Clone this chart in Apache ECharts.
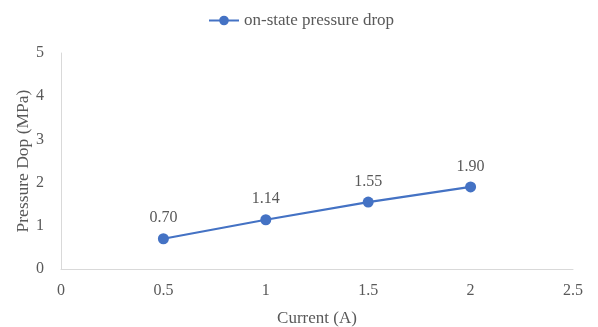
<!DOCTYPE html>
<html><head><meta charset="utf-8">
<script src="https://cdn.jsdelivr.net/npm/echarts@6/dist/echarts.min.js"></script>
<style>html,body{margin:0;padding:0;background:#fff}#c{width:598px;height:327px}</style>
</head><body><div id="c"></div>
<script>
const currents = [0.5, 1, 1.5, 2];
const pressureDrop = [0.70, 1.14, 1.55, 1.90];
const seriesName = 'on-state pressure drop';
const xTitle = 'Current (A)';
const yTitle = 'Pressure Dop (MPa)';

const font = 'Liberation Serif';
const txt = '#595959';
const chart = echarts.init(document.getElementById('c'));
chart.setOption({
  animation: false,
  textStyle: {fontFamily: font},
  legend: {
    top: 7, left: 203,
    data: [seriesName],
    itemWidth: 30, itemHeight: 12, itemGap: 5,
    textStyle: {fontFamily: font, fontSize: 17, color: txt}
  },
  grid: {left: 61, right: 25, top: 53, bottom: 58, containLabel: false, outerBoundsMode: 'none'},
  xAxis: {
    type: 'value', min: 0, max: 2.5, interval: 0.5,
    name: xTitle, nameLocation: 'middle', nameGap: 41, nameMoveOverlap: false,
    nameTextStyle: {fontFamily: font, fontSize: 17, color: txt},
    axisLine: {show: true, lineStyle: {color: '#d9d9d9'}},
    axisTick: {show: false},
    splitLine: {show: false},
    axisLabel: {fontFamily: font, fontSize: 16, color: txt, margin: 14}
  },
  yAxis: {
    type: 'value', min: 0, max: 5, interval: 1,
    name: yTitle, nameLocation: 'middle', nameGap: 29, nameMoveOverlap: false,
    nameTextStyle: {fontFamily: font, fontSize: 17.5, color: txt},
    axisLine: {show: true, lineStyle: {color: '#d9d9d9'}},
    axisTick: {show: false},
    splitLine: {show: false},
    axisLabel: {fontFamily: font, fontSize: 16, color: txt, margin: 17}
  },
  series: [{
    name: seriesName, type: 'line',
    data: currents.map((c, i) => [c, pressureDrop[i]]),
    symbol: 'circle', symbolSize: 11,
    lineStyle: {color: '#4472C4', width: 2.25},
    itemStyle: {color: '#4472C4'},
    label: {
      show: true, position: 'top', distance: 7,
      fontFamily: font, fontSize: 16, color: txt,
      formatter: p => p.value[1].toFixed(2)
    }
  }]
});
</script></body></html>
